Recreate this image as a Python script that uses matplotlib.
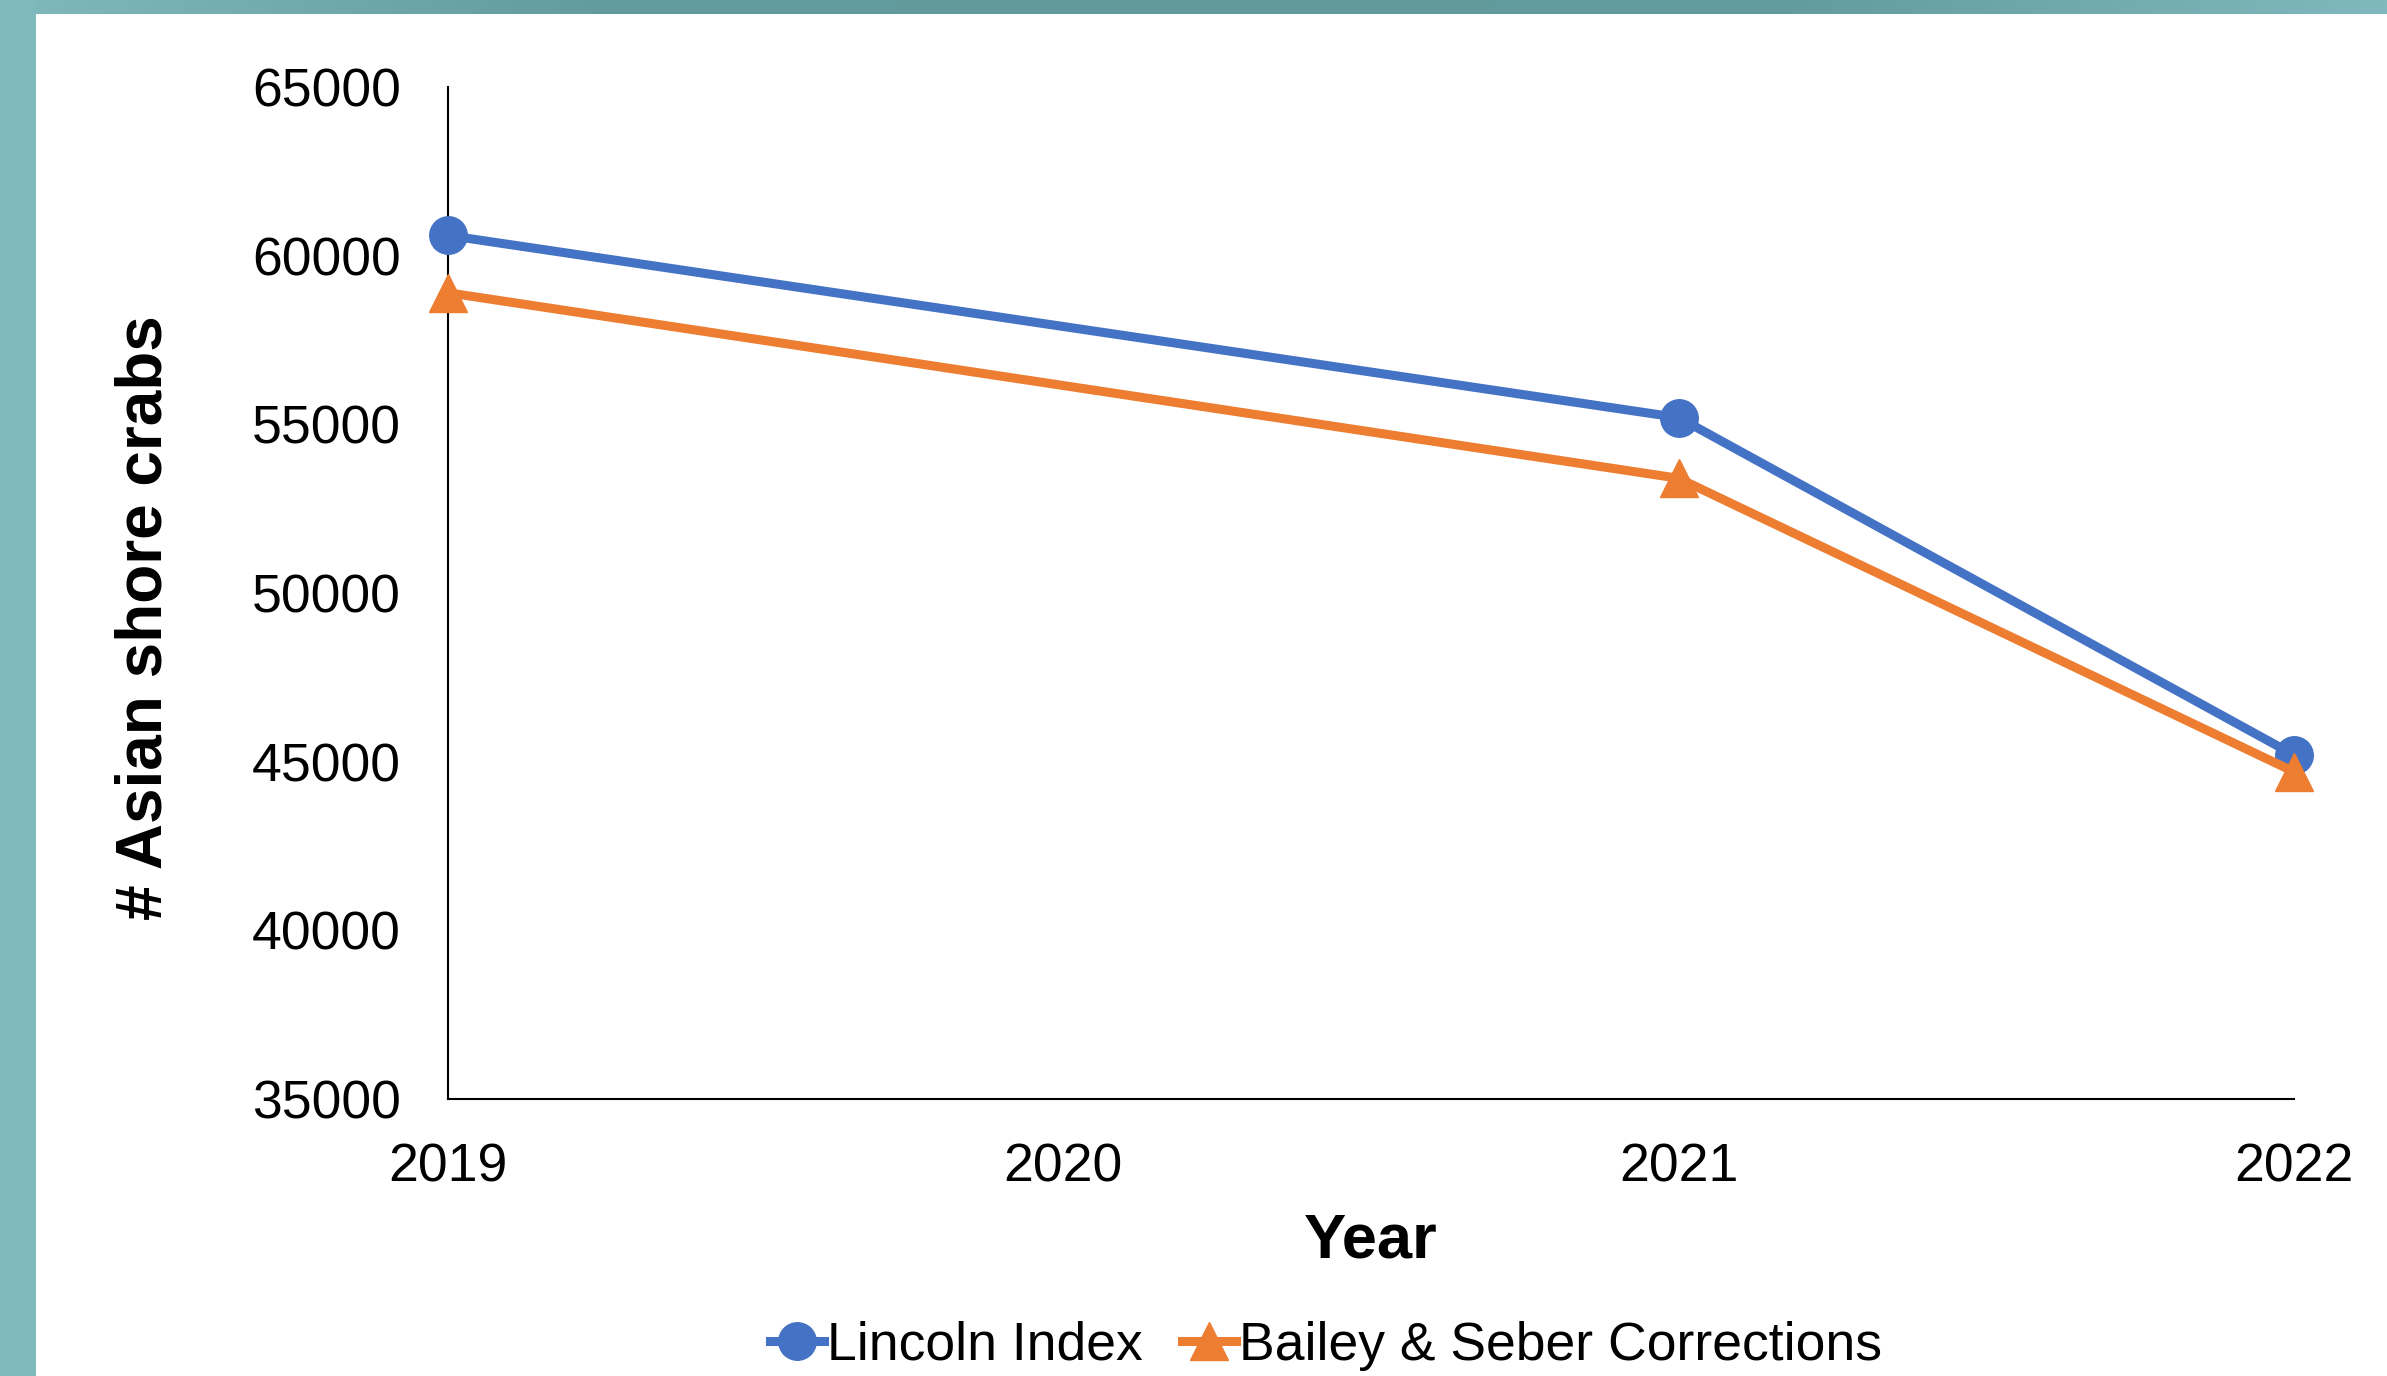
"""
Asian shore crab population estimates, 2019-2022.
"""

import numpy as np
import matplotlib
matplotlib.use('Agg')
import matplotlib.pyplot as plt
from matplotlib.colors import LinearSegmentedColormap
from matplotlib.patches import Rectangle

matplotlib.rcParams['font.family'] = ['Liberation Sans', 'DejaVu Sans']

# Données
years = [2019, 2020, 2021, 2022]
year_labels = ['2019', '2020', '2021', '2022']
lincoln_years = [2019, 2021, 2022]
lincoln = [60600, 55200, 45200]
bailey_years = [2019, 2021, 2022]
bailey = [58900, 53400, 44700]
y_ticks = [35000, 40000, 45000, 50000, 55000, 60000, 65000]

BLUE = '#4472C4'
ORANGE = '#ED7D31'

W, H = 2387, 1376
fig = plt.figure(figsize=(W / 100, H / 100), dpi=100)
fig.patch.set_facecolor('white')

# Cadre turquoise (bande gauche + bande haute en dégradé)
fig.patches.append(Rectangle((0, 0), 36 / W, 1, transform=fig.transFigure,
                             facecolor='#7FB9BC', edgecolor='none', zorder=0))
band = fig.add_axes([0, 1 - 14 / H, 1, 14 / H])
cmap = LinearSegmentedColormap.from_list(
    'teal', ['#7FB9BC', '#639C9E', '#629A9C', '#639C9E', '#7FB9BD'])
band.imshow(np.linspace(0, 1, 512)[None, :], aspect='auto', cmap=cmap)
band.axis('off')

ax = fig.add_axes([448 / W, 1 - 1099 / H, (2294 - 448) / W, (1099 - 87) / H])

ax.plot(lincoln_years, lincoln, color=BLUE, lw=6.5, marker='o', ms=27,
        clip_on=False, zorder=3, label='Lincoln Index')
ax.plot(bailey_years, bailey, color=ORANGE, lw=6.5, marker='^', ms=28,
        clip_on=False, zorder=4, label='Bailey & Seber Corrections')

ax.set_xlim(2019, 2022)
ax.set_ylim(35000, 65000)
ax.set_xticks(years)
ax.set_xticklabels(year_labels)
ax.set_yticks(y_ticks)
ax.tick_params(axis='both', length=0, labelsize=38.5)
ax.tick_params(axis='y', pad=34)
ax.tick_params(axis='x', pad=31)

for side in ['top', 'right']:
    ax.spines[side].set_visible(False)
for side in ['left', 'bottom']:
    ax.spines[side].set_linewidth(1.5)

ax.set_xlabel('Year', fontsize=45.5, fontweight='bold', labelpad=14)
ax.set_ylabel('# Asian shore crabs', fontsize=46, fontweight='bold')
ax.yaxis.set_label_coords(-0.148, 0.476)

fig.legend(loc='center', bbox_to_anchor=(1326 / W, 1 - 1346 / H), ncol=2,
           frameon=False, fontsize=38.5, handlelength=1.0, handletextpad=0.05,
           columnspacing=0.75, borderaxespad=0)

fig.savefig('out.png', dpi=100)
